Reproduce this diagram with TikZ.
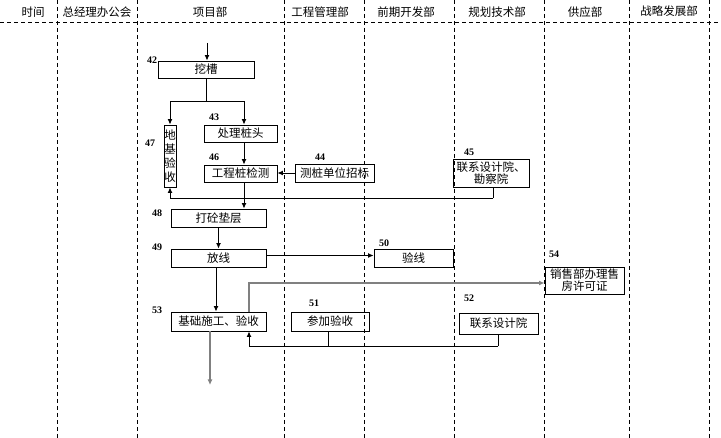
\documentclass[tikz,border=0pt]{standalone}
\usepackage{fontspec}
\setmainfont{Liberation Serif}
\newfontfamily\cjk{Noto Sans CJK SC}
\usetikzlibrary{arrows.meta}
\tikzset{
  lane/.style={draw=black, dashed, dash pattern=on 4pt off 3pt, line width=0.8pt},
  hdr/.style={font=\cjk\fontsize{11.5}{13}\selectfont, inner sep=0pt},
  box/.style={draw=black, line width=0.95pt, rectangle, inner sep=0pt, font=\cjk\fontsize{11.5}{13}\selectfont, align=center},
  num/.style={font=\bfseries\fontsize{10}{11}\selectfont, inner sep=0pt},
  conn/.style={draw=black, line width=0.95pt},
  arr/.style={conn, -{Latex[length=5.5pt,width=5pt]}},
  garr/.style={draw=black!50, line width=1.1pt, -{Latex[length=5.5pt,width=5pt]}},
}
\begin{document}
\begin{tikzpicture}[x=1pt,y=-1pt]
\useasboundingbox (0,0) rectangle (721,438);
% lanes
\foreach \xx in {57,137,284,364,454,544,629,709}{
  \draw[lane] (\xx,0) -- (\xx,438);
}
\draw[lane] (0,22) -- (721,22);
% headers
\node[hdr] (h1) at (33,12) {时间};
\node[hdr] (h2) at (97,12) {总经理办公会};
\node[hdr] (h3) at (210,12) {项目部};
\node[hdr] (h4) at (320,12) {工程管理部};
\node[hdr] (h5) at (406,12) {前期开发部};
\node[hdr] (h6) at (497,12) {规划技术部};
\node[hdr] (h7) at (585,12) {供应部};
\node[hdr] (h8) at (669,11) {战略发展部};
% boxes
\node[box, minimum width=96pt, minimum height=17pt] (wa) at (206,69.5) {挖槽};
\node[box, minimum width=12pt, minimum height=62pt, font=\cjk\fontsize{11.5}{14}\selectfont] (dj) at (170,156) {地\\基\\验\\收};
\node[box, minimum width=73pt, minimum height=17pt] (cl) at (240.5,133.5) {处理桩头};
\node[box, minimum width=73pt, minimum height=17pt] (gc) at (240.5,173.5) {工程桩检测};
\node[box, minimum width=79pt, minimum height=18pt] (cz) at (334.5,173) {测桩单位招标};
\node[box, minimum width=76pt, minimum height=28pt, font=\cjk\fontsize{11.5}{12.5}\selectfont] (lx1) at (491,173) {联系设计院、\\勘察院};
\node[box, minimum width=95pt, minimum height=18pt] (dt) at (218.5,218) {打砼垫层};
\node[box, minimum width=95pt, minimum height=18pt] (fx) at (218.5,258) {放线};
\node[box, minimum width=79pt, minimum height=18pt] (yx) at (413.5,258) {验线};
\node[box, minimum width=95pt, minimum height=19pt] (jc) at (218.5,321.5) {基础施工、验收};
\node[box, minimum width=78pt, minimum height=19pt] (cj) at (330,321.5) {参加验收};
\node[box, minimum width=79pt, minimum height=21pt] (lx2) at (498.5,323.5) {联系设计院};
\node[box, minimum width=79pt, minimum height=27pt, font=\cjk\fontsize{11.5}{12}\selectfont] (xs) at (584.5,280.5) {销售部办理售\\房许可证};
% numbers
\node[num] (n42) at (152,60) {42};
\node[num] (n43) at (214,117) {43};
\node[num] (n47) at (150,143) {47};
\node[num] (n46) at (214,157) {46};
\node[num] (n44) at (320,157) {44};
\node[num] (n45) at (469,152) {45};
\node[num] (n48) at (157,213) {48};
\node[num] (n49) at (157,247) {49};
\node[num] (n50) at (384,243) {50};
\node[num] (n54) at (554,254) {54};
\node[num] (n51) at (314,303) {51};
\node[num] (n52) at (469,298) {52};
\node[num] (n53) at (157,310) {53};
% coordinates
\coordinate (start) at (207,43);
\coordinate (j1) at (206,101);
\coordinate (j2) at (493,198);
\coordinate (j3) at (249,283);
\coordinate (j4) at (498,346);
\coordinate (endc) at (210,385);
\coordinate (c244) at (244,0);
% connectors
\draw[arr] (start) -- (start |- wa.north);
\draw[conn] (wa.south -| j1) -- (j1);
\draw[arr] (j1) -| (dj.north);
\draw[arr] (j1) -| (cl.north -| c244);
\draw[arr] (cl.south -| c244) -- (gc.north -| c244);
\draw[arr] (cz.west) -- (gc.east |- cz.west);
\draw[conn] (lx1.south -| j2) -- (j2);
\draw[arr] (j2) -| (dj.south);
\draw[arr] (gc.south -| c244) -- (dt.north -| c244);
\draw[arr] (dt.south) -- (fx.north);
\draw[arr] ([yshift=2.5pt]fx.east) -- ([yshift=2.5pt]yx.west);
\draw[arr] ([xshift=-2.5pt]fx.south) -- ([xshift=-2.5pt]jc.north);
\draw[garr] (jc.north -| j3) -- (j3) -- (j3 -| xs.west);
\draw[conn] (lx2.south -| j4) -- (j4);
\draw[arr] (j4) -| (jc.south -| j3);
\draw[conn] ([xshift=-2pt]cj.south) -- ([xshift=-2pt]cj.south |- j4);
\draw[garr] (jc.south -| endc) -- (endc);
\end{tikzpicture}
\end{document}
